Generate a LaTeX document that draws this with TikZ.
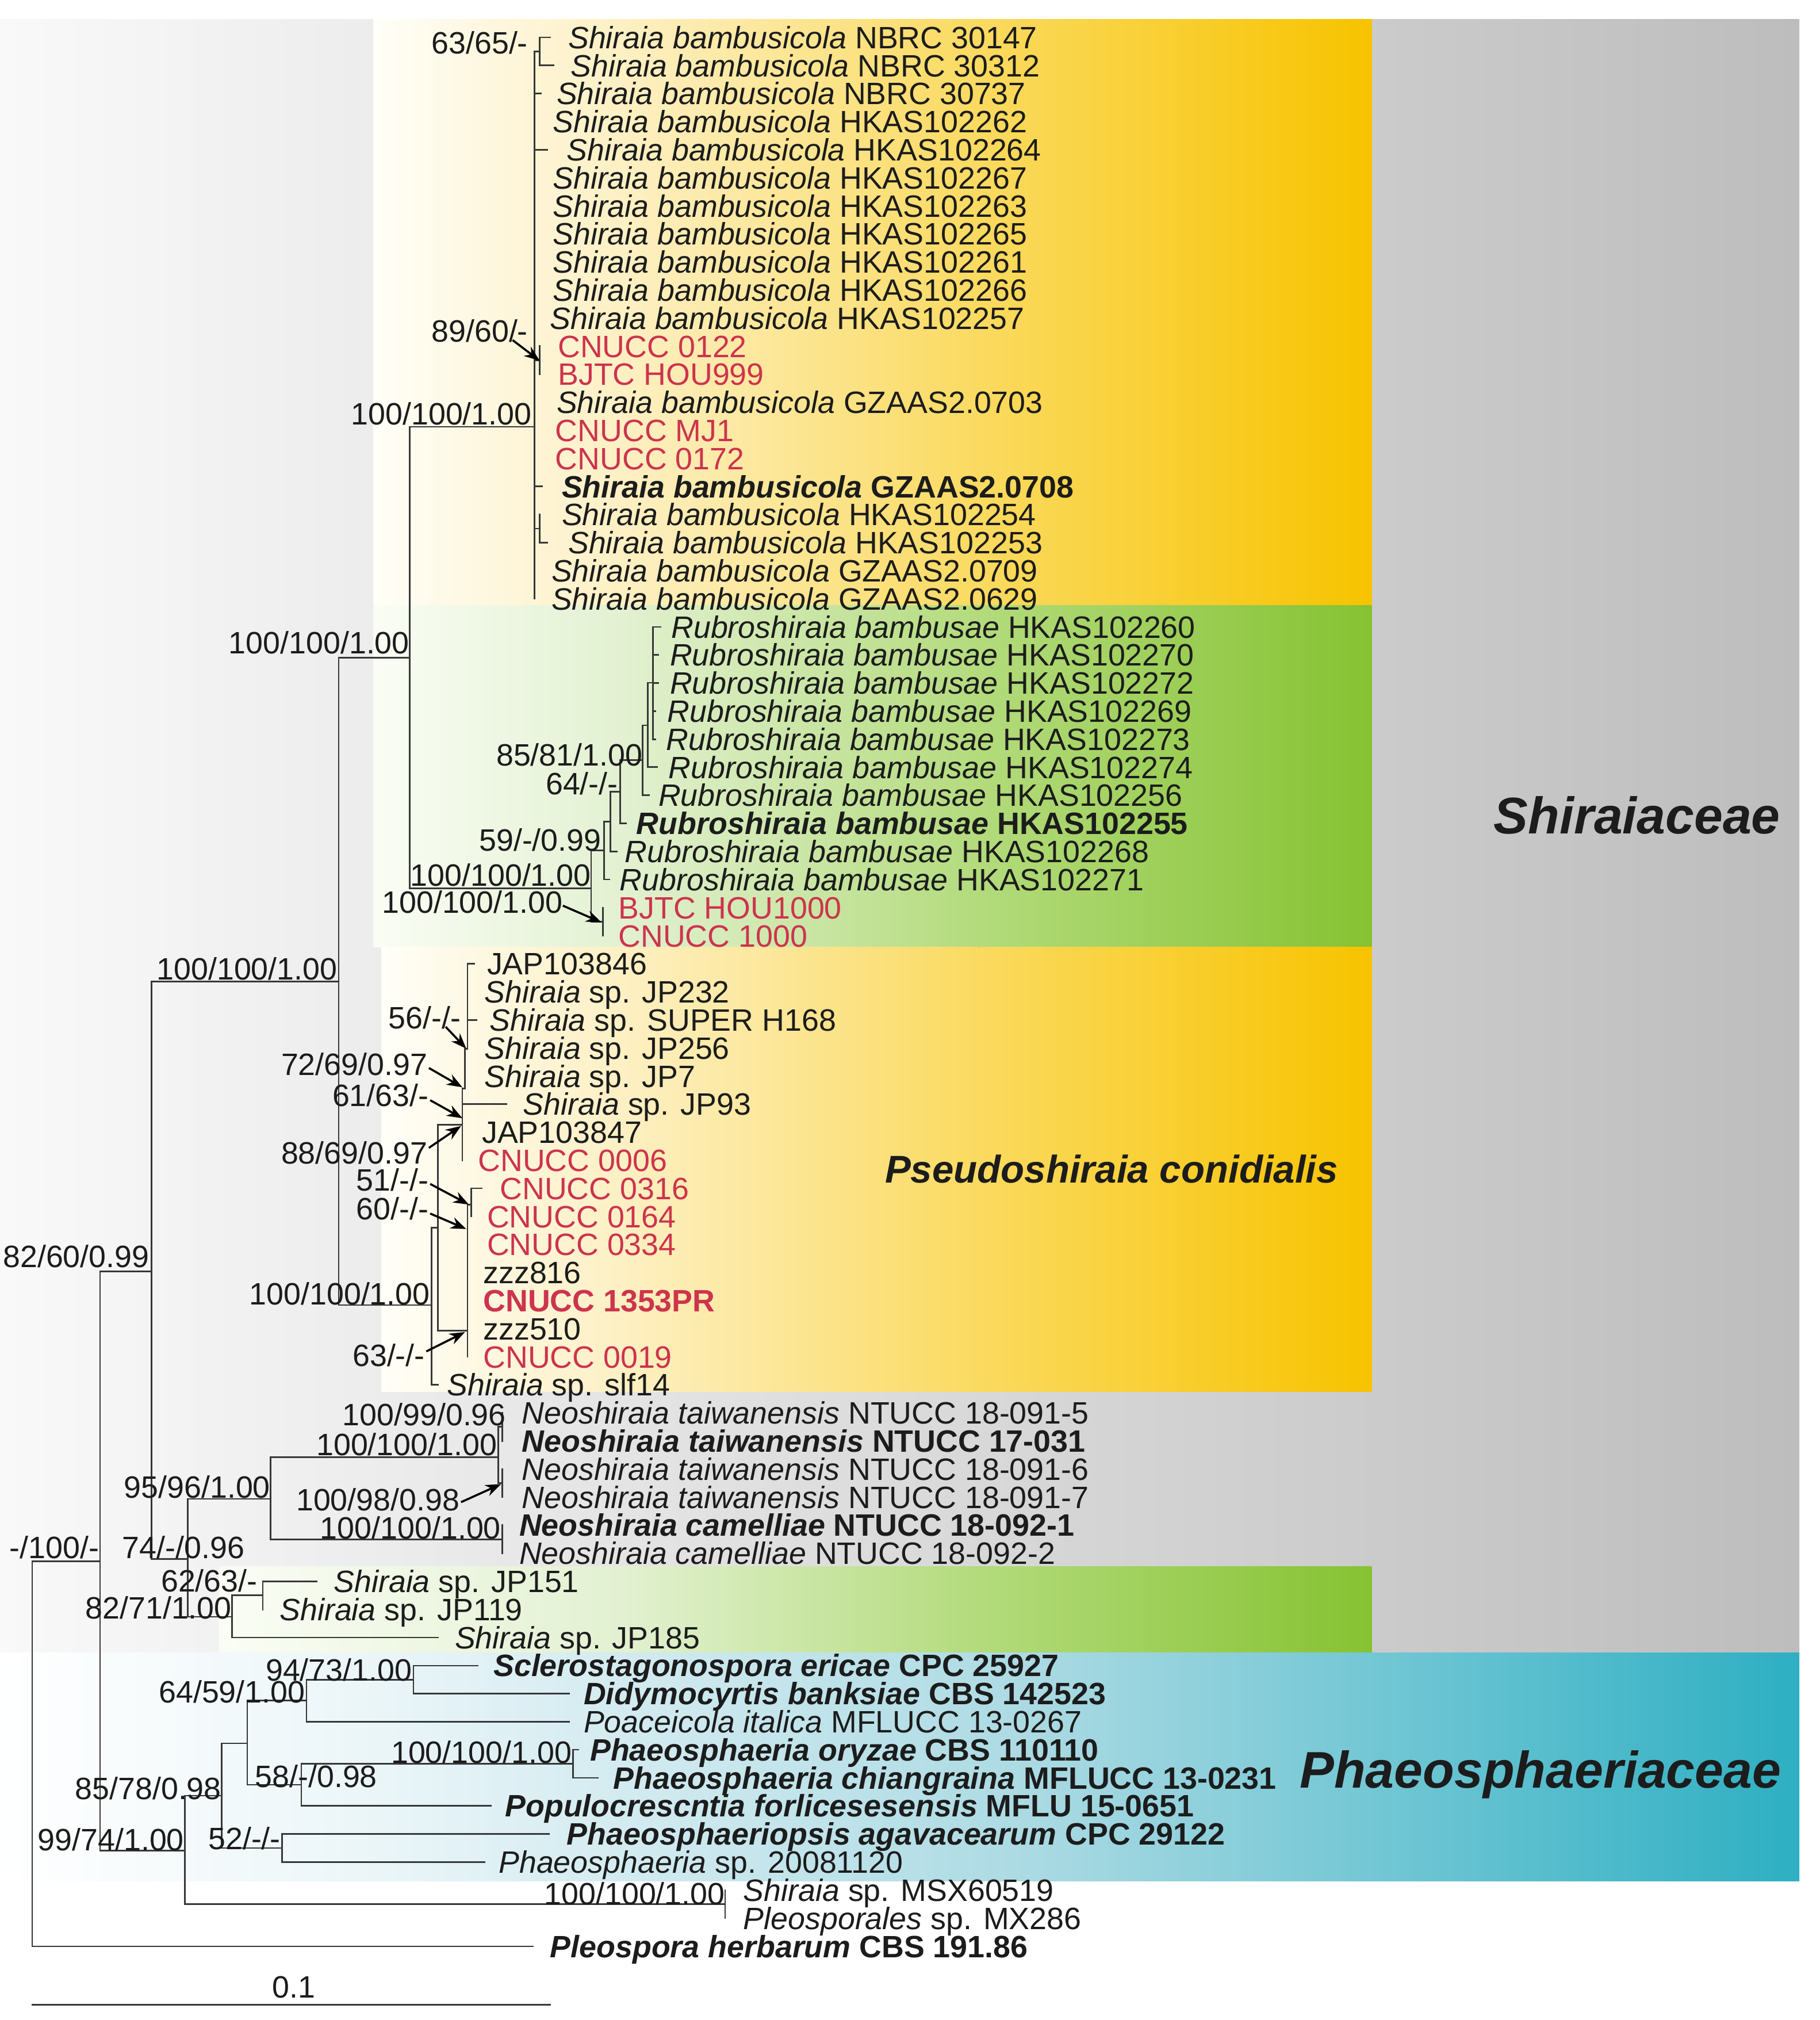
\documentclass[tikz,border=0pt]{standalone}
\usepackage{fontspec}
\setmainfont{Liberation Sans}
\usetikzlibrary{arrows.meta}
\definecolor{rd}{RGB}{205,52,78}
\definecolor{tc}{RGB}{28,28,28}
\definecolor{ln}{RGB}{55,55,55}
\definecolor{gL}{HTML}{F9F9F9}\definecolor{gR}{HTML}{BDBDBD}
\definecolor{y0}{HTML}{FFFEF8}\definecolor{y1}{HTML}{FDF0C4}\definecolor{y2}{HTML}{FADA60}\definecolor{y3}{HTML}{F7C300}
\definecolor{g0}{HTML}{FAFDF5}\definecolor{g1}{HTML}{E3F1D2}\definecolor{g2}{HTML}{B3DB7C}\definecolor{g3}{HTML}{86C232}
\definecolor{t0}{HTML}{FFFFFF}\definecolor{t1}{HTML}{EAF5F8}\definecolor{t2}{HTML}{ABDAE3}\definecolor{t3}{HTML}{2EAFC2}
\tikzset{
  br/.style={draw=ln, line width=1.2pt, line cap=rect},
  leaf/.style={anchor=base west, inner sep=0pt, text=tc, font=\fontsize{24}{28}\selectfont},
  supp/.style={anchor=base east, inner sep=0pt, text depth=0pt, text=tc, font=\fontsize{24}{28}\selectfont},
  arr/.style={draw=black, line width=1.6pt, -{Stealth[length=12pt,width=9pt]}},
  clade/.style={anchor=base, inner sep=0pt, text=tc, font=\fontsize{40}{44}\selectfont\bfseries\itshape},
}
\newcommand{\lf}[4][]{\node[leaf,#1] (l#2) at (#3,{29+(#2-1)*21.79+8.6}) {#4};}
\newcommand{\sv}[4]{\node[supp] (#1) at (#2,{#3+8.6}) {#4};}
\newcommand{\grad}[6]{\fill[left color=#5,right color=#6] (#1,#2) rectangle (#3,#4);}
\newcommand{\Sb}{\textit{Shiraia bambusicola}}
\newcommand{\Rb}{\textit{Rubroshiraia bambusae}}
\newcommand{\Ss}{\textit{Shiraia} sp.}
\newcommand{\Nt}{\textit{Neoshiraia taiwanensis}}
\begin{document}
\begin{tikzpicture}[x=1pt,y=-1pt]
\useasboundingbox (0,0) rectangle (1413,1568);
\fill[white] (0,0) rectangle (1413,1568);
% ---------- backgrounds
\grad{0}{15}{1397}{1283}{gL}{gR}
% yellow 1
\grad{290}{15}{481}{470}{y0}{y1}
\grad{480}{15}{761}{470}{y1}{y2}
\grad{760}{15}{1065}{470}{y2}{y3}
% green 1
\grad{290}{470}{481}{735}{g0}{g1}
\grad{480}{470}{761}{735}{g1}{g2}
\grad{760}{470}{1065}{735}{g2}{g3}
% yellow 2
\grad{296}{735}{481}{1080}{y0}{y1}
\grad{480}{735}{761}{1080}{y1}{y2}
\grad{760}{735}{1065}{1080}{y2}{y3}
% green 2
\grad{170}{1216}{481}{1283}{g0}{g1}
\grad{480}{1216}{761}{1283}{g1}{g2}
\grad{760}{1216}{1065}{1283}{g2}{g3}
% teal
\grad{0}{1283}{301}{1460}{t0}{t1}
\grad{300}{1283}{801}{1460}{t1}{t2}
\grad{800}{1283}{1397}{1460}{t2}{t3}

% ---------- tree: Shiraia bambusicola
\draw[br] (415,40) -- (415,464.8);
\draw[br] (415,40) -- (419,40) (419,29) -- (419,50.8) (419,29) -- (427,29) (419,50.8) -- (430,50.8);
\draw[br] (415,72.6) -- (420,72.6) (415,116.2) -- (425,116.2);
\draw[br] (415,279.6) -- (419,279.6) (419,268.7) -- (419,290.5);
\draw[br] (415,377.6) -- (421,377.6);
\draw[br] (415,410.3) -- (419,410.3) (419,399.4) -- (419,421.2) (419,421.2) -- (425,421.2);
\draw[br] (318,331.3) -- (415,331.3) (318,331.3) -- (318,689.6) (263,510.5) -- (318,510.5);
% Rubroshiraia
\draw[br] (318,689.6) -- (459,689.6) (459,660) -- (459,715.4) (459,660) -- (469,660) (459,715.4) -- (468,715.4) (468,704.5) -- (468,726.3);
\draw[br] (469,637.7) -- (469,682.7) (469,682.7) -- (473,682.7) (469,637.7) -- (474,637.7);
\draw[br] (474,614.5) -- (474,660.9) (474,660.9) -- (479,660.9) (474,614.5) -- (481.6,614.5);
\draw[br] (481.6,590) -- (481.6,639.1) (481.6,639.1) -- (486,639.1) (481.6,590) -- (499,590);
\draw[br] (499,563) -- (499,617.3) (499,617.3) -- (504,617.3) (499,563) -- (503,563);
\draw[br] (503,530) -- (503,595.5) (503,595.5) -- (510,595.5) (503,530) -- (507,530);
\draw[br] (507,486.6) -- (507,573.8) (507,486.6) -- (513,486.6) (507,508.4) -- (511,508.4) (507,530.2) -- (511,530.2) (507,552) -- (509,552) (507,573.8) -- (509,573.8);
% Pseudoshiraia
\draw[br] (263,510.5) -- (263,1013) (263,1013) -- (335,1013) (335,953) -- (335,1074.9) (335,1074.9) -- (340,1074.9) (335,953) -- (340,953);
\draw[br] (340,873) -- (340,1033) (340,873) -- (359,873) (340,1033) -- (363,1033);
\draw[br] (359,845) -- (359,900.6) (359,857) -- (393,857) (359,845) -- (361,845);
\draw[br] (361,814) -- (361,845) (361,814) -- (363,814);
\draw[br] (363,748.1) -- (363,814) (363,748.1) -- (368,748.1) (363,791.7) -- (370,791.7);
\draw[br] (363,935) -- (363,1053.2) (363,935) -- (366,935) (366,922.4) -- (366,944.2) (366,922.4) -- (374,922.4);
% Neoshiraia and JP clade
\draw[br] (117.5,762) -- (117.5,1210) (117.5,762) -- (263,762);
\draw[br] (117.5,1210) -- (145.7,1210) (145.7,1163.5) -- (145.7,1255);
\draw[br] (145.7,1163.5) -- (210,1163.5) (210,1131) -- (210,1195) (210,1131) -- (387,1131) (210,1195) -- (390,1195) (390,1183.9) -- (390,1205.7);
\draw[br] (387,1107.6) -- (387,1151.2) (387,1107.6) -- (390,1107.6) (387,1151.2) -- (390,1151.2) (390,1096.7) -- (390,1118.5) (390,1140.3) -- (390,1162.1);
\draw[br] (145.7,1255) -- (180,1255) (180,1238.4) -- (180,1271.1) (180,1238.4) -- (204,1238.4) (204,1227.5) -- (204,1249.3) (204,1227.5) -- (246,1227.5) (180,1271.1) -- (340,1271.1);
% root and Phaeosphaeriaceae
\draw[br] (77.7,987) -- (117.5,987) (77.7,987) -- (77.7,1436.4) (25,1212) -- (77.7,1212) (25,1212) -- (25,1510.8) (25,1510.8) -- (413.6,1510.8);
\draw[br] (77.7,1436.4) -- (143.5,1436.4) (143.5,1393.9) -- (143.5,1478) (143.5,1478) -- (563,1478) (563,1467.2) -- (563,1489);
\draw[br] (143.5,1393.9) -- (172,1393.9) (172,1353.2) -- (172,1434.5) (172,1434.5) -- (219,1434.5) (219,1423.6) -- (219,1445.4) (219,1423.6) -- (426,1423.6) (219,1445.4) -- (376,1445.4);
\draw[br] (172,1353.2) -- (192,1353.2) (192,1320.1) -- (192,1385.4);
\draw[br] (192,1320.1) -- (238,1320.1) (238,1303.8) -- (238,1336.4) (238,1303.8) -- (321,1303.8) (321,1292.9) -- (321,1314.6) (321,1292.9) -- (371,1292.9) (321,1314.6) -- (442,1314.6) (238,1336.4) -- (442,1336.4);
\draw[br] (192,1385.4) -- (234,1385.4) (234,1369.1) -- (234,1401.8) (234,1369.1) -- (445,1369.1) (445,1358.2) -- (445,1380) (445,1358.2) -- (449,1358.2) (445,1380) -- (464,1380) (234,1401.8) -- (381,1401.8);
% scale bar
\draw[br] (25,1556) -- (427,1556);
\node[anchor=base, inner sep=0pt, text=tc, font=\fontsize{24}{28}\selectfont] (scl) at (228,1551) {0.1};

% ---------- leaves
\lf{1}{441}{\Sb{} NBRC 30147}
\lf{2}{443}{\Sb{} NBRC 30312}
\lf{3}{432}{\Sb{} NBRC 30737}
\lf{4}{429}{\Sb{} HKAS102262}
\lf{5}{440}{\Sb{} HKAS102264}
\lf{6}{429}{\Sb{} HKAS102267}
\lf{7}{429}{\Sb{} HKAS102263}
\lf{8}{429}{\Sb{} HKAS102265}
\lf{9}{429}{\Sb{} HKAS102261}
\lf{10}{429}{\Sb{} HKAS102266}
\lf{11}{427}{\Sb{} HKAS102257}
\lf[text=rd]{12}{433}{CNUCC 0122}
\lf[text=rd]{13}{433}{BJTC HOU999}
\lf{14}{432}{\Sb{} GZAAS2.0703}
\lf[text=rd]{15}{431}{CNUCC MJ1}
\lf[text=rd]{16}{431}{CNUCC 0172}
\lf{17}{436}{\textbf{\Sb{} GZAAS2.0708}}
\lf{18}{436}{\Sb{} HKAS102254}
\lf{19}{441}{\Sb{} HKAS102253}
\lf{20}{428}{\Sb{} GZAAS2.0709}
\lf{21}{428}{\Sb{} GZAAS2.0629}
\lf{22}{521}{\Rb{} HKAS102260}
\lf{23}{520}{\Rb{} HKAS102270}
\lf{24}{520}{\Rb{} HKAS102272}
\lf{25}{518}{\Rb{} HKAS102269}
\lf{26}{517}{\Rb{} HKAS102273}
\lf{27}{519}{\Rb{} HKAS102274}
\lf{28}{511}{\Rb{} HKAS102256}
\lf{29}{494}{\textbf{\Rb{} HKAS102255}}
\lf{30}{485}{\Rb{} HKAS102268}
\lf{31}{481}{\Rb{} HKAS102271}
\lf[text=rd]{32}{480}{BJTC HOU1000}
\lf[text=rd]{33}{480}{CNUCC 1000}
\lf{34}{378}{JAP103846}
\lf{35}{376}{\Ss{} JP232}
\lf{36}{380}{\Ss{} SUPER H168}
\lf{37}{376}{\Ss{} JP256}
\lf{38}{376}{\Ss{} JP7}
\lf{39}{406}{\Ss{} JP93}
\lf{40}{374}{JAP103847}
\lf[text=rd]{41}{371}{CNUCC 0006}
\lf[text=rd]{42}{388}{CNUCC 0316}
\lf[text=rd]{43}{378}{CNUCC 0164}
\lf[text=rd]{44}{378}{CNUCC 0334}
\lf{45}{375}{zzz816}
\lf[text=rd]{46}{375}{\textbf{CNUCC 1353PR}}
\lf{47}{375}{zzz510}
\lf[text=rd]{48}{375}{CNUCC 0019}
\lf{49}{347}{\Ss{} slf14}
\lf{50}{405}{\Nt{} NTUCC 18-091-5}
\lf{51}{405}{\textbf{\Nt{} NTUCC 17-031}}
\lf{52}{405}{\Nt{} NTUCC 18-091-6}
\lf{53}{405}{\Nt{} NTUCC 18-091-7}
\lf{54}{403}{\textbf{\textit{Neoshiraia camelliae} NTUCC 18-092-1}}
\lf{55}{403}{\textit{Neoshiraia camelliae} NTUCC 18-092-2}
\lf{56}{259}{\Ss{} JP151}
\lf{57}{217}{\Ss{} JP119}
\lf{58}{353}{\Ss{} JP185}
\lf{59}{383}{\textbf{\textit{Sclerostagonospora ericae} CPC 25927}}
\lf{60}{453}{\textbf{\textit{Didymocyrtis banksiae} CBS 142523}}
\lf{61}{453}{\textit{Poaceicola italica} MFLUCC 13-0267}
\lf{62}{458}{\textbf{\textit{Phaeosphaeria oryzae} CBS 110110}}
\lf{63}{476}{\textbf{\textit{Phaeosphaeria chiangraina} MFLUCC 13-0231}}
\lf{64}{392}{\textbf{\textit{Populocrescntia forlicesesensis} MFLU 15-0651}}
\lf{65}{440}{\textbf{\textit{Phaeosphaeriopsis agavacearum} CPC 29122}}
\lf{66}{387}{\textit{Phaeosphaeria} sp. 20081120}
\lf{67}{577}{\Ss{} MSX60519}
\lf{68}{577}{\textit{Pleosporales} sp. MX286}
\lf{69}{427}{\textbf{\textit{Pleospora herbarum} CBS 191.86}}

% ---------- support values
\sv{s1}{410}{33}{63/65/-}
\sv{s2}{410}{257}{89/60/-}
\sv{s3}{413}{321}{100/100/1.00}
\sv{s4}{318}{499}{100/100/1.00}
\sv{s5}{499}{586}{85/81/1.00}
\sv{s6}{480}{608}{64/-/-}
\sv{s7}{467}{652}{59/-/0.99}
\sv{s8}{459}{679}{100/100/1.00}
\sv{s9}{437}{700}{100/100/1.00}
\sv{s10}{262}{752}{100/100/1.00}
\sv{s11}{358}{790}{56/-/-}
\sv{s12}{332}{826}{72/69/0.97}
\sv{s13}{333}{850}{61/63/-}
\sv{s14}{332}{895}{88/69/0.97}
\sv{s15}{333}{916}{51/-/-}
\sv{s16}{333}{938}{60/-/-}
\sv{s17}{116}{975}{82/60/0.99}
\sv{s18}{334}{1004}{100/100/1.00}
\sv{s19}{330}{1052}{63/-/-}
\sv{s20}{393}{1098}{100/99/0.96}
\sv{s21}{386}{1121}{100/100/1.00}
\sv{s22}{210}{1154}{95/96/1.00}
\sv{s23}{357}{1164}{100/98/0.98}
\sv{s24}{389}{1186}{100/100/1.00}
\sv{s25}{77}{1201}{-/100/-}
\sv{s26}{190}{1201}{74/-/0.96}
\sv{s27}{200}{1227}{62/63/-}
\sv{s28}{180}{1248}{82/71/1.00}
\sv{s29}{320}{1296}{94/73/1.00}
\sv{s30}{237}{1313}{64/59/1.00}
\sv{s31}{444}{1360}{100/100/1.00}
\sv{s32}{293}{1379}{58/-/0.98}
\sv{s33}{172}{1388}{85/78/0.98}
\sv{s34}{218}{1427}{52/-/-}
\sv{s35}{143}{1428}{99/74/1.00}
\sv{s36}{563}{1470}{100/100/1.00}

% ---------- arrows
\coordinate (a2) at (398,264);   \coordinate (b2) at (419,280);
\coordinate (a9) at (437,703);   \coordinate (b9) at (467,716);
\coordinate (a11) at (346,797);  \coordinate (b11) at (362,814);
\coordinate (a12) at (333,829);  \coordinate (b12) at (359,844);
\coordinate (a13) at (334,854);  \coordinate (b13) at (359,868);
\coordinate (a14) at (333,891);  \coordinate (b14) at (358,874);
\coordinate (a15) at (334,919);  \coordinate (b15) at (364,935);
\coordinate (a16) at (334,942);  \coordinate (b16) at (362,954);
\coordinate (a19) at (331,1049); \coordinate (b19) at (361,1034);
\coordinate (a23) at (358,1166); \coordinate (b23) at (389,1152);
\foreach \k in {2,9,11,12,13,14,15,16,19,23} {\draw[arr] (a\k) -- (b\k);}

% ---------- clade names
\node[clade] (shir) at (1271,647) {Shiraiaceae};
\node[clade, font=\fontsize{30}{34}\selectfont\bfseries\itshape] (pseudo) at (863,918) {Pseudoshiraia conidialis};
\node[clade] (phaeo) at (1196,1388) {Phaeosphaeriaceae};
\end{tikzpicture}
\end{document}
